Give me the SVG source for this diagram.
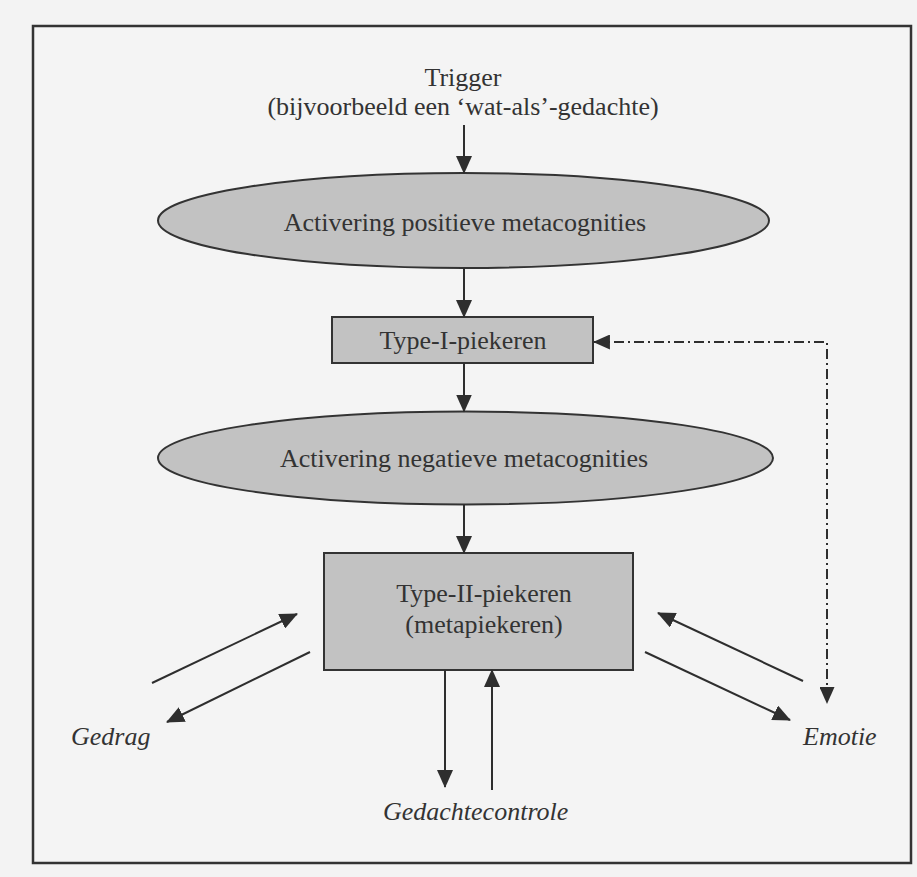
<svg xmlns="http://www.w3.org/2000/svg" width="917" height="877" viewBox="0 0 917 877">
  <style>
    .bg { fill: #f3f3f3; }
    .frame { fill: #f4f4f4; stroke: #333; stroke-width: 2.5; }
    .shape { fill: #c2c2c2; stroke: #333; stroke-width: 2; }
    .t { font-family: "Liberation Serif", "Times New Roman", serif; font-size: 26px; fill: #333; text-anchor: middle; }
    .ti { font-family: "Liberation Serif", "Times New Roman", serif; font-size: 26px; font-style: italic; fill: #333; }
    .conn { stroke: #2e2e2e; stroke-width: 2; fill: none; marker-end: url(#ah); }
    .dd { stroke: #2e2e2e; stroke-width: 2; fill: none; stroke-dasharray: 10 4 2 4; marker-start: url(#ahs); marker-end: url(#ahs); }
  </style>
  <defs>
    <marker id="ah" viewBox="0 0 18 16" refX="17" refY="8" markerWidth="18" markerHeight="16" markerUnits="userSpaceOnUse" orient="auto">
      <path d="M0,0 L18,8 L0,16 z" fill="#2e2e2e"/>
    </marker>
    <marker id="ahs" viewBox="0 0 18 16" refX="17" refY="8" markerWidth="17" markerHeight="15" markerUnits="userSpaceOnUse" orient="auto-start-reverse">
      <path d="M0,0 L18,8 L0,16 z" fill="#2e2e2e"/>
    </marker>
  </defs>
  <rect class="bg" x="0" y="0" width="917" height="877"/>
  <rect class="frame" x="33" y="26" width="878" height="837"/>

  <g id="trigger">
    <text class="t" x="463" y="86">Trigger</text>
    <text class="t" x="463" y="115">(bijvoorbeeld een ‘wat-als’-gedachte)</text>
  </g>
  <g id="positieve">
    <ellipse class="shape" cx="463.5" cy="220.5" rx="305.5" ry="47.5"/>
    <text class="t" x="465" y="231">Activering positieve metacognities</text>
  </g>
  <g id="type1">
    <rect class="shape" x="332" y="317" width="261" height="46"/>
    <text class="t" x="463" y="349">Type-I-piekeren</text>
  </g>
  <g id="negatieve">
    <ellipse class="shape" cx="465.5" cy="458" rx="307.5" ry="46.5"/>
    <text class="t" x="464" y="467">Activering negatieve metacognities</text>
  </g>
  <g id="type2">
    <rect class="shape" x="324" y="553" width="309" height="117"/>
    <text class="t" x="484" y="602">Type-II-piekeren</text>
    <text class="t" x="484" y="633">(metapiekeren)</text>
  </g>
  <g id="gedrag">
    <text class="ti" x="71" y="745">Gedrag</text>
  </g>
  <g id="emotie">
    <text class="ti" x="803" y="745">Emotie</text>
  </g>
  <g id="gedachtecontrole">
    <text class="ti" x="383" y="820">Gedachtecontrole</text>
  </g>

  <g id="connectors">
    <line class="conn" x1="464" y1="125" x2="464" y2="173"/>
    <line class="conn" x1="464" y1="268" x2="464" y2="317"/>
    <line class="conn" x1="464" y1="363" x2="464" y2="411.5"/>
    <line class="conn" x1="464" y1="504.5" x2="464" y2="553"/>
    <line class="conn" x1="152" y1="683" x2="297" y2="614"/>
    <line class="conn" x1="310" y1="652" x2="167" y2="722"/>
    <line class="conn" x1="803" y1="681" x2="658" y2="613"/>
    <line class="conn" x1="645" y1="652" x2="790" y2="720"/>
    <line class="conn" x1="445" y1="670" x2="445" y2="787"/>
    <line class="conn" x1="492" y1="790" x2="492" y2="670"/>
    <path class="dd" d="M594,342 H827 V703"/>
  </g>
</svg>
